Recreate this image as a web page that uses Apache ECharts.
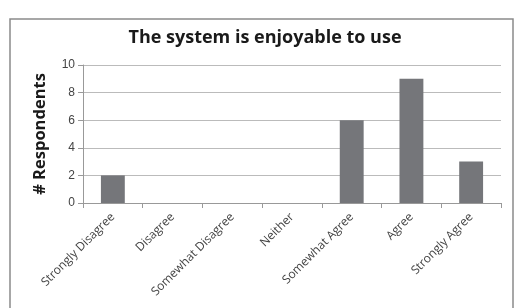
<!DOCTYPE html>
<html>
<head>
<meta charset="utf-8">
<script src="https://cdn.jsdelivr.net/npm/echarts@6/dist/echarts.min.js"></script>
<style>
  html, body { margin: 0; padding: 0; background: #fff; }
  #main { width: 518px; height: 308px; }
</style>
</head>
<body>
<div id="main"></div>
<script>
// answers to "The system is enjoyable to use"
const categories = ['Strongly Disagree', 'Disagree', 'Somewhat Disagree', 'Neither',
  'Somewhat Agree', 'Agree', 'Strongly Agree'];
const respondents = [2, 0, 0, 0, 6, 9, 3];

const chart = echarts.init(document.getElementById('main'));
chart.setOption({
  animation: false,
  backgroundColor: '#fff',
  title: {
    text: 'The system is enjoyable to use',
    left: 260, top: 24, textAlign: 'center',
    textStyle: { fontFamily: 'Open Sans', fontWeight: 'bold', fontSize: 18, color: '#1a1a1a' }
  },
  graphic: [{
    type: 'rect',
    shape: { x: 10, y: 19, width: 503, height: 300 },
    style: { fill: 'none', stroke: '#8a8a8a', lineWidth: 1.5 },
    z: -1
  }],
  grid: { left: 83, right: 17, top: 65, bottom: 105 },
  xAxis: {
    type: 'category',
    data: categories,
    axisLine: { lineStyle: { color: '#999' } },
    axisTick: { show: true, length: 5, lineStyle: { color: '#999' } },
    axisLabel: {
      rotate: 45, interval: 0, margin: 12,
      fontFamily: 'Open Sans', fontSize: 12, color: '#444'
    }
  },
  yAxis: {
    type: 'value',
    min: 0, max: 10, interval: 2,
    name: '# Respondents',
    nameLocation: 'middle',
    nameGap: 34,
    nameTextStyle: { fontFamily: 'Open Sans', fontWeight: 'bold', fontSize: 16.5, color: '#1a1a1a' },
    axisLine: { show: true, lineStyle: { color: '#999' } },
    axisTick: { show: true, length: 5, lineStyle: { color: '#999' } },
    axisLabel: { fontFamily: 'Liberation Sans', fontSize: 12, color: '#444', margin: 8 },
    splitLine: { lineStyle: { color: '#bbb' } }
  },
  series: [{
    type: 'bar',
    data: respondents,
    barWidth: '40%',
    itemStyle: { color: '#75767a' }
  }]
});
</script>
</body>
</html>
